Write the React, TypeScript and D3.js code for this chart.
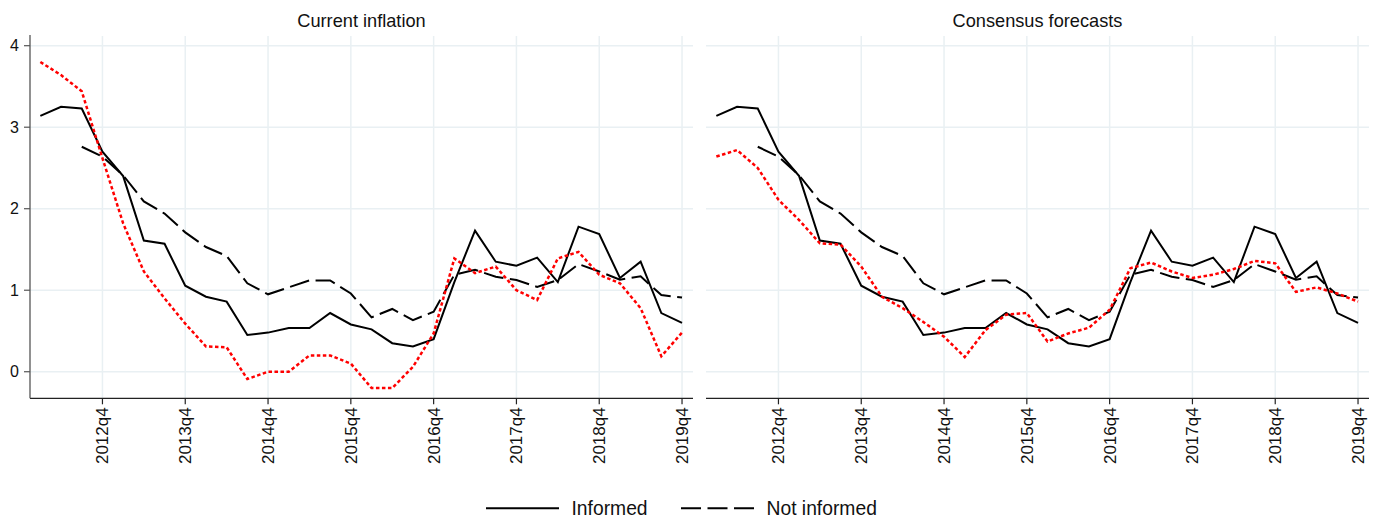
import React from "react";
import * as d3 from "d3";

const quarters = [
  "2012q1", "2012q2", "2012q3", "2012q4",
  "2013q1", "2013q2", "2013q3", "2013q4",
  "2014q1", "2014q2", "2014q3", "2014q4",
  "2015q1", "2015q2", "2015q3", "2015q4",
  "2016q1", "2016q2", "2016q3", "2016q4",
  "2017q1", "2017q2", "2017q3", "2017q4",
  "2018q1", "2018q2", "2018q3", "2018q4",
  "2019q1", "2019q2", "2019q3", "2019q4",
];
const xTickLabels = ["2012q4", "2013q4", "2014q4", "2015q4", "2016q4", "2017q4", "2018q4", "2019q4"];
const yTicks = [0, 1, 2, 3, 4];

const informed = [
  3.14, 3.25, 3.23, 2.70, 2.40, 1.61, 1.57, 1.055,
  0.92, 0.86, 0.45, 0.48, 0.535, 0.535, 0.72, 0.58,
  0.52, 0.35, 0.31, 0.40, 1.10, 1.73, 1.35, 1.30,
  1.40, 1.10, 1.78, 1.69, 1.15, 1.35, 0.72, 0.60,
];
const notInformed: (number | null)[] = [
  null, null, 2.76, 2.64, 2.41, 2.09, 1.94, 1.71,
  1.53, 1.42, 1.085, 0.95, 1.035, 1.12, 1.12, 0.96,
  0.667, 0.77, 0.634, 0.736, 1.19, 1.25, 1.166, 1.125,
  1.04, 1.125, 1.32, 1.23, 1.13, 1.17, 0.94, 0.91,
];
const currentInflation = [
  3.80, 3.64, 3.44, 2.62, 1.82, 1.23, 0.90, 0.59,
  0.31, 0.30, -0.09, 0.0, 0.0, 0.20, 0.20, 0.10,
  -0.20, -0.20, 0.06, 0.47, 1.39, 1.21, 1.29, 1.00,
  0.88, 1.39, 1.47, 1.19, 1.085, 0.78, 0.19, 0.48,
];
const consensusForecasts = [
  2.64, 2.72, 2.50, 2.11, 1.86, 1.575, 1.56, 1.29,
  0.92, 0.78, 0.61, 0.43, 0.18, 0.51, 0.70, 0.72,
  0.37, 0.47, 0.54, 0.76, 1.27, 1.34, 1.23, 1.15,
  1.19, 1.26, 1.36, 1.33, 0.98, 1.035, 0.96, 0.86,
];

const panels = [
  { title: "Current inflation", red: currentInflation, left: 30, right: 693 },
  { title: "Consensus forecasts", red: consensusForecasts, left: 706, right: 1369 },
];

const W = 1383;
const H = 520;
const TOP = 36;
const BOTTOM = 398.3;
const GRID = "#e9f0f3";
const FONT = "'Liberation Sans', Arial, Helvetica, sans-serif";

function Panel({ p, showY }: { p: (typeof panels)[number]; showY: boolean }) {
  const x = d3.scaleLinear().domain([-0.5, quarters.length - 1 + 0.53]).range([p.left, p.right]);
  const y = d3.scaleLinear().domain([-0.326, 4.119]).range([BOTTOM, TOP]);
  const line = d3
    .line<number | null>()
    .defined((d) => d !== null)
    .x((_, i) => x(i))
    .y((d) => y(d as number));
  const tickIdx = xTickLabels.map((l) => quarters.indexOf(l));
  return (
    <g>
      {/* grid */}
      {yTicks.map((t) => (
        <line key={"h" + t} x1={p.left} x2={p.right} y1={y(t)} y2={y(t)} stroke={GRID} strokeWidth={1.5} />
      ))}
      {tickIdx.map((i) => (
        <line key={"v" + i} x1={x(i)} x2={x(i)} y1={TOP} y2={BOTTOM} stroke={GRID} strokeWidth={1.5} />
      ))}
      {/* axes */}
      <line x1={p.left} x2={p.right} y1={BOTTOM} y2={BOTTOM} stroke="#222" strokeWidth={1.3} />
      {tickIdx.map((i, k) => (
        <g key={"t" + i}>
          <line x1={x(i)} x2={x(i)} y1={BOTTOM} y2={BOTTOM + 6} stroke="#222" strokeWidth={1.2} />
          <text
            transform={`translate(${x(i) + 6},${BOTTOM + 9}) rotate(-90)`}
            textAnchor="end"
            fontSize={17}
            fontFamily={FONT}
            fill="#111"
          >
            {xTickLabels[k]}
          </text>
        </g>
      ))}
      {showY && (
        <g>
          <line x1={p.left} x2={p.left} y1={TOP - 1} y2={BOTTOM} stroke="#555" strokeWidth={1.3} />
          {yTicks.map((t) => (
            <g key={"y" + t}>
              <line x1={p.left - 6} x2={p.left} y1={y(t)} y2={y(t)} stroke="#555" strokeWidth={1.2} />
              <text
                x={p.left - 11}
                y={y(t)}
                dy="0.35em"
                textAnchor="end"
                fontSize={16}
                fontFamily={FONT}
                fill="#111"
              >
                {t}
              </text>
            </g>
          ))}
        </g>
      )}
      {/* title */}
      <text x={(p.left + p.right) / 2} y={26.5} textAnchor="middle" fontSize={18.2} fontFamily={FONT} fill="#111">
        {p.title}
      </text>
      {/* series */}
      <path d={line(notInformed) || ""} fill="none" stroke="#000" strokeWidth={2} strokeDasharray="20,6.5" />
      <path d={line(informed) || ""} fill="none" stroke="#000" strokeWidth={2} />
      <path d={line(p.red) || ""} fill="none" stroke="#ff0000" strokeWidth={2.5} strokeDasharray="3.5,2.5" />
    </g>
  );
}

export default function App() {
  return (
    <svg
      width={W}
      height={H}
      style={{ position: "absolute", left: 0, top: 0, background: "#fff" }}
      viewBox={`0 0 ${W} ${H}`}
    >
      <rect x={0} y={0} width={W} height={H} fill="#fff" />
      {panels.map((p, i) => (
        <Panel key={p.title} p={p} showY={i === 0} />
      ))}
      {/* legend */}
      <g fontFamily={FONT} fontSize={19.3} fill="#111">
        <line x1={486} x2={559} y1={508.3} y2={508.3} stroke="#000" strokeWidth={2} />
        <text x={571.5} y={508.3} dy="0.36em">Informed</text>
        <line x1={681} x2={754} y1={508.3} y2={508.3} stroke="#000" strokeWidth={2} strokeDasharray="20,6.5" />
        <text x={766.5} y={508.3} dy="0.36em">Not informed</text>
      </g>
    </svg>
  );
}
